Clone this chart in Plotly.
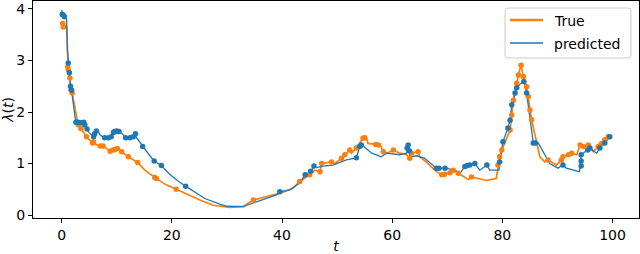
import plotly.graph_objects as go

# ---- data ----
true_t = [0.0, 0.3, 0.9, 1.1, 1.2, 1.5, 1.7, 1.9, 2.5, 3.0, 3.5, 4.5, 5.4, 5.7, 7.0, 7.5, 8.8, 9.7, 10.1, 10.9,
          12.1, 13.8, 15.1, 16.9, 17.2, 18.7, 20.8, 22.4, 25.1, 27.5, 30.5, 33.0, 34.8, 37.2, 39.6, 42.0, 43.2,
          45.0, 46.0, 46.9, 47.2, 49.0, 49.6, 50.8, 51.4, 52.3, 52.6, 53.5, 54.7, 55.3, 55.6, 56.9, 57.8, 58.4,
          59.0, 60.2, 61.4, 62.6, 63.2, 63.5, 64.7, 65.0, 66.2, 67.7, 69.0, 70.5, 71.1, 72.0, 73.2, 73.8, 74.4,
          77.1, 78.9, 79.2, 79.5, 79.9, 81.4, 81.7, 82.0, 82.6, 82.9, 83.4, 83.8, 84.4, 84.7, 85.0, 85.3, 86.8,
          87.7, 88.3, 89.8, 90.7, 91.0, 92.0, 92.6, 93.5, 94.1, 94.7, 95.6, 96.5, 97.4, 98.0, 98.6, 99.2]
true_y = [3.75, 3.7, 3.65, 2.88, 2.82, 2.66, 2.43, 2.37, 2.0, 1.75, 1.68, 1.52, 1.42, 1.39, 1.34, 1.34, 1.24, 1.27,
          1.29, 1.23, 1.13, 1.02, 0.87, 0.73, 0.71, 0.6, 0.5, 0.42, 0.29, 0.19, 0.15, 0.17, 0.29, 0.36, 0.42,
          0.52, 0.65, 0.78, 0.87, 0.84, 1.0, 1.03, 1.0, 1.1, 1.17, 1.26, 1.2, 1.3, 1.49, 1.52, 1.39, 1.37, 1.36,
          1.23, 1.2, 1.26, 1.2, 1.17, 1.1, 1.2, 1.23, 1.13, 1.03, 0.87, 0.78, 0.82, 0.87, 0.81, 0.74, 0.69, 0.74,
          0.67, 0.71, 0.97, 1.13, 1.26, 1.65, 1.94, 2.23, 2.56, 2.72, 2.91, 2.69, 2.49, 2.3, 2.04, 1.85, 1.13,
          1.03, 1.07, 0.97, 1.07, 1.13, 1.17, 1.2, 1.17, 1.36, 1.33, 1.36, 1.23, 1.33, 1.39, 1.46, 1.52]

true_evt_t = [0.2, 0.3, 1.1, 1.2, 1.5, 1.7, 1.9, 3.0, 3.5, 4.5, 5.6, 5.8, 7.0, 7.5, 8.8, 9.3, 9.7, 10.1, 10.9, 12.1,
              13.8, 16.9, 17.2, 20.8, 34.8, 43.2, 45.0, 46.9, 47.2, 49.0, 50.8, 51.4, 52.3, 53.5, 54.7, 55.0, 57.0,
              57.5, 58.4, 60.2, 63.2, 63.5, 64.7, 69.0, 69.5, 70.5, 71.1, 72.0, 74.4, 79.2, 79.5, 79.9, 81.4, 81.7,
              82.0, 82.6, 82.9, 83.4, 83.8, 84.4, 84.7, 85.0, 85.3, 88.3, 90.7, 91.0, 92.0, 92.6, 94.1, 94.7, 95.6,
              97.4, 98.0, 98.6, 99.2]
true_evt_y = [3.72, 3.65, 2.88, 2.82, 2.66, 2.43, 2.37, 1.75, 1.68, 1.52, 1.4, 1.42, 1.34, 1.34, 1.24, 1.26, 1.27,
              1.29, 1.23, 1.13, 1.02, 0.73, 0.71, 0.5, 0.29, 0.65, 0.78, 0.84, 1.0, 1.03, 1.1, 1.17, 1.26, 1.3,
              1.49, 1.5, 1.37, 1.36, 1.23, 1.26, 1.1, 1.2, 1.23, 0.78, 0.79, 0.82, 0.87, 0.81, 0.74, 0.97, 1.13,
              1.26, 1.65, 1.94, 2.23, 2.56, 2.72, 2.91, 2.69, 2.49, 2.3, 2.04, 1.85, 1.07, 1.07, 1.13, 1.17, 1.2,
              1.36, 1.33, 1.36, 1.33, 1.39, 1.46, 1.52]

pred_t = [0.0, 0.2, 0.5, 0.9, 1.05, 1.2, 1.4, 1.6, 1.8, 2.2, 2.5, 3.0, 3.5, 4.0, 4.5, 5.0, 5.5, 5.8, 6.2, 6.6, 7.0,
          7.8, 8.5, 9.0, 9.4, 9.8, 10.4, 11.0, 11.6, 12.4, 13.0, 13.4, 13.6, 14.7, 15.8, 16.8, 17.5, 18.1, 19.5,
          21.0, 22.5, 24.0, 26.0, 28.7, 30.0, 33.0, 33.6, 36.0, 39.0, 39.6, 41.4, 43.2, 44.2, 45.2, 45.8, 46.2,
          47.5, 49.2, 51.7, 53.5, 54.1, 54.5, 56.3, 58.0, 59.0, 61.4, 62.6, 62.9, 63.2, 64.5, 65.9, 68.0, 69.6,
          71.4, 72.3, 73.2, 74.1, 75.0, 75.9, 77.2, 77.7, 79.4, 79.5, 79.8, 80.1, 81.0, 81.4, 81.7, 82.3, 82.6,
          83.3, 83.9, 84.4, 85.3, 85.6, 86.5, 88.6, 90.1, 91.0, 91.6, 94.0, 94.3, 95.5, 95.9, 97.1, 97.7, 98.6, 99.5]
pred_y = [3.98, 3.9, 3.88, 3.8, 3.2, 2.95, 2.76, 2.5, 2.42, 2.1, 1.85, 1.8, 1.79, 1.8, 1.67, 1.6, 1.55, 1.52, 1.62,
          1.64, 1.55, 1.5, 1.5, 1.52, 1.6, 1.63, 1.62, 1.58, 1.5, 1.5, 1.52, 1.58, 1.5, 1.33, 1.18, 1.05, 1.0,
          0.96, 0.8, 0.67, 0.56, 0.45, 0.32, 0.21, 0.17, 0.16, 0.19, 0.28, 0.39, 0.45, 0.49, 0.62, 0.78, 0.85,
          0.95, 0.92, 0.95, 0.97, 1.07, 1.11, 1.33, 1.36, 1.2, 1.13, 1.2, 1.17, 1.2, 1.36, 1.13, 1.15, 1.1, 0.91,
          0.91, 0.87, 0.81, 0.94, 0.97, 1.0, 0.87, 0.97, 0.87, 0.87, 1.03, 1.2, 1.42, 1.69, 1.84, 2.14, 2.37,
          2.47, 2.55, 2.59, 2.37, 1.71, 1.4, 1.4, 1.0, 0.91, 0.97, 0.91, 0.84, 1.17, 1.26, 1.3, 1.2, 1.3, 1.4, 1.52]

pred_evt_t = [0.1, 0.3, 0.5, 1.2, 1.4, 1.6, 1.8, 2.6, 3.0, 3.5, 4.0, 4.2, 4.6, 5.8, 6.0, 6.3, 7.8, 8.5, 9.0, 9.4,
              9.6, 10.0, 10.4, 11.6, 12.4, 13.0, 13.4, 14.7, 16.8, 18.1, 22.5, 39.6, 44.2, 45.2, 45.8, 53.5, 54.1,
              54.4, 62.7, 62.9, 63.1, 68.0, 68.5, 69.6, 73.2, 73.6, 74.1, 75.0, 77.2, 79.5, 80.1, 81.0, 81.4, 81.7,
              82.3, 82.6, 83.9, 84.4, 85.6, 86.0, 91.0, 94.3, 94.3, 94.3, 95.5, 95.9, 97.7, 98.6, 99.5]
pred_evt_y = [3.9, 3.88, 3.85, 2.95, 2.76, 2.5, 2.42, 1.8, 1.8, 1.79, 1.8, 1.75, 1.67, 1.52, 1.58, 1.63, 1.5, 1.5,
              1.52, 1.6, 1.62, 1.63, 1.62, 1.5, 1.5, 1.52, 1.58, 1.33, 1.05, 0.96, 0.56, 0.45, 0.78, 0.85, 0.95,
              1.11, 1.33, 1.36, 1.3, 1.36, 1.25, 0.91, 0.91, 0.91, 0.94, 0.96, 0.97, 1.0, 0.97, 1.03, 1.42, 1.69,
              1.84, 2.14, 2.37, 2.47, 2.59, 2.37, 1.4, 1.4, 0.97, 0.95, 1.05, 1.17, 1.26, 1.3, 1.3, 1.4, 1.52]

x_ticks = [0, 20, 40, 60, 80, 100]
y_ticks = [0, 1, 2, 3, 4]
legend_labels = ["True", "predicted"]

ORANGE = "#ff7f0e"
BLUE = "#1f77b4"
FONT = "DejaVu Sans"

fig = go.Figure()
fig.add_trace(go.Scatter(x=true_t, y=true_y, mode="lines", name=legend_labels[0], showlegend=False,
                         line=dict(color=ORANGE, width=1.7)))
fig.add_trace(go.Scatter(x=pred_t, y=pred_y, mode="lines", name=legend_labels[1], showlegend=False,
                         line=dict(color=BLUE, width=1.3)))
fig.add_trace(go.Scatter(x=true_evt_t, y=true_evt_y, mode="markers", showlegend=False,
                         marker=dict(color=ORANGE, size=5.5, line=dict(width=0))))
fig.add_trace(go.Scatter(x=pred_evt_t, y=pred_evt_y, mode="markers", showlegend=False,
                         marker=dict(color=BLUE, size=5.5, line=dict(width=0))))

# ---- matplotlib-style legend box (paper coordinates) ----
W, H = 606.0, 217.0   # plot area size in px
def px(x):  # page x pixel -> paper x
    return (x - 33) / W
def py(y):  # page y pixel -> paper y
    return (218 - y) / H

bx0, bx1, by0, by1 = px(505), px(631), py(58), py(8)
rx, ry = 3 / W, 3 / H
box_path = (f"M{bx0+rx},{by0} L{bx1-rx},{by0} Q{bx1},{by0} {bx1},{by0+ry} "
            f"L{bx1},{by1-ry} Q{bx1},{by1} {bx1-rx},{by1} L{bx0+rx},{by1} "
            f"Q{bx0},{by1} {bx0},{by1-ry} L{bx0},{by0+ry} Q{bx0},{by0} {bx0+rx},{by0} Z")
shapes = [
    dict(type="path", xref="paper", yref="paper", path=box_path, layer="above",
         fillcolor="rgba(255,255,255,0.8)", line=dict(color="#cccccc", width=1)),
    dict(type="line", xref="paper", yref="paper", x0=px(510), x1=px(543), y0=py(20), y1=py(20),
         layer="above", line=dict(color=ORANGE, width=2.6)),
    dict(type="line", xref="paper", yref="paper", x0=px(510), x1=px(543), y0=py(43), y1=py(43),
         layer="above", line=dict(color=BLUE, width=1.5)),
]
annotations = [
    dict(xref="paper", yref="paper", x=px(553), y=py(20.5), text=legend_labels[0], showarrow=False,
         xanchor="left", yanchor="middle", borderpad=0, font=dict(family=FONT, size=14, color="black")),
    dict(xref="paper", yref="paper", x=px(553), y=py(43.5), text=legend_labels[1], showarrow=False,
         xanchor="left", yanchor="middle", borderpad=0, font=dict(family=FONT, size=14, color="black")),
]

axis_common = dict(showgrid=False, zeroline=False, showline=True, linecolor="black", linewidth=1,
                   mirror=True, ticks="outside", ticklen=4, tickwidth=1, tickcolor="black",
                   automargin=False,
                   tickfont=dict(family=FONT, size=14, color="black"))

fig.update_layout(
    width=640, height=254,
    margin=dict(l=33, r=1, t=1, b=36),
    paper_bgcolor="white", plot_bgcolor="white",
    font=dict(family=FONT, size=14, color="black"),
    showlegend=False,
    xaxis=dict(range=[-5.2, 104.8], tickvals=x_ticks, ticktext=[str(v) for v in x_ticks],
               title=dict(text="<i>t</i>", standoff=2, font=dict(family=FONT, size=14)), **axis_common),
    yaxis=dict(range=[-0.058, 4.155], tickvals=y_ticks, ticktext=[str(v) for v in y_ticks],
               title=dict(text="<i>λ</i>(<i>t</i>)", standoff=4, font=dict(family=FONT, size=14)), **axis_common),
    shapes=shapes,
    annotations=annotations,
)

fig.write_html("out.html", config={"displayModeBar": False})

# remove the default page margin so the figure sits at the window's top-left corner
with open("out.html", "r", encoding="utf-8") as f:
    html = f.read()
html = html.replace("<head>", "<head><style>html,body{margin:0;padding:0;overflow:hidden;}</style>", 1)
with open("out.html", "w", encoding="utf-8") as f:
    f.write(html)
